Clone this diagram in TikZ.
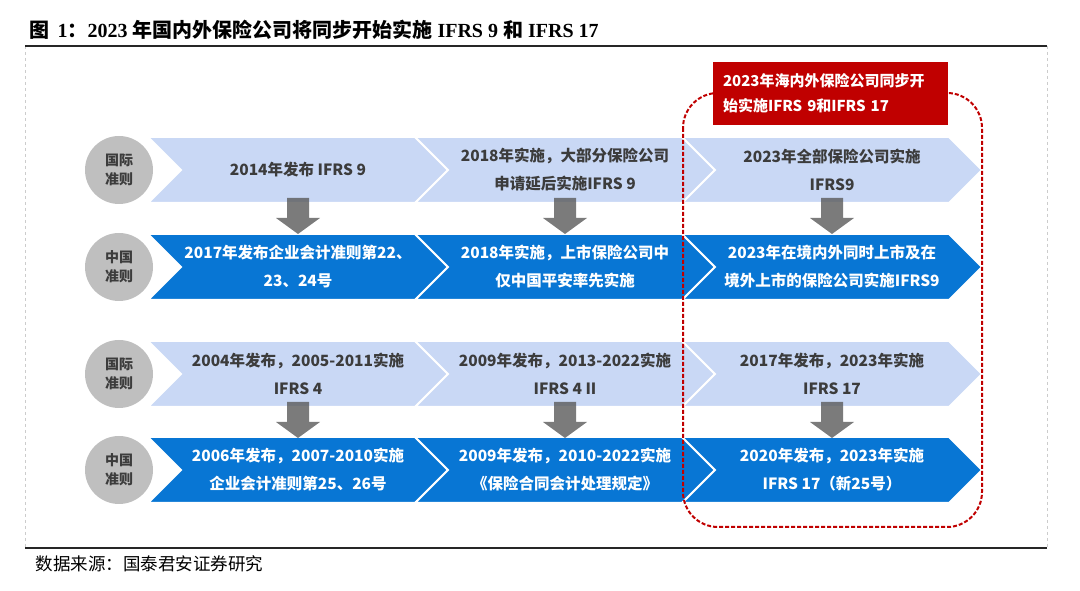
\documentclass[tikz,border=0pt]{standalone}
\usepackage{fontspec}
\setmainfont{Liberation Serif}
\newfontfamily\cjk{Noto Sans CJK SC}
\usetikzlibrary{shapes.symbols, positioning, calc}

\definecolor{lightblue}{RGB}{201,216,245}
\definecolor{darkblue}{RGB}{8,118,212}
\definecolor{darkred}{RGB}{192,0,0}
\definecolor{darktext}{RGB}{60,60,60}
\definecolor{circlegray}{RGB}{191,191,191}
\definecolor{arrowgray}{RGB}{90,90,90}

\begin{document}
\begin{tikzpicture}[
  x=1pt, y=1pt,
  chev/.style={
    signal,
    signal from=west,
    signal to=east,
    signal pointer angle=90,
    draw=white,
    line width=2pt,
    minimum width=300pt,
    minimum height=66pt,
    inner sep=0pt,
    align=center,
    font=\cjk\bfseries\fontsize{15.5}{28}\selectfont
  },
  intl/.style={
    chev,
    fill=lightblue,
    text=darktext
  },
  cn/.style={
    chev,
    fill=darkblue,
    text=white
  },
  tag/.style={
    circle,
    fill=circlegray,
    minimum size=68pt,
    inner sep=0pt,
    align=center,
    text=darktext,
    font=\cjk\bfseries\fontsize{14}{19}\selectfont
  },
  note/.style={
    rectangle,
    fill=darkred,
    text=white,
    minimum width=235pt,
    minimum height=63pt,
    text width=215pt,
    align=left,
    font=\cjk\bfseries\fontsize{15}{25}\selectfont
  },
  dnarrow/.pic={
    \fill[arrowgray, fill opacity=0.8]
      (-11,6) -- (11,6) -- (11,-14) -- (22,-14) -- (0,-30)
      -- (-22,-14) -- (-11,-14) -- cycle;
  },
  groupbox/.style={draw=darkred, dash pattern=on 4pt off 2pt, line width=2pt, rounded corners=35pt},
  frameline/.style={draw=black!85, line width=2pt},
  frameside/.style={draw=black!20, dashed, line width=1pt}
]

\useasboundingbox (0,0) rectangle (1080,591);

% ============================================================
% Title, frame and source
% ============================================================

\node[anchor=west, font=\bfseries\fontsize{20}{22}\selectfont] (title) at (26,561)
  {{\cjk 图}\hspace{8pt}1{\cjk ：}2023~{\cjk 年国内外保险公司将同步开始实施}~IFRS~9~{\cjk 和}~IFRS~17};

\draw[frameside] (25,545) -- (25,43);
\draw[frameside] (1047,545) -- (1047,43);
\draw[frameline] (25,545) -- (1047,545);
\draw[frameline] (25,43) -- (1047,43);

\node[anchor=west, font=\cjk\fontsize{17.5}{20}\selectfont] (source) at (32,27)
  {数据来源：国泰君安证券研究};

% ============================================================
% IFRS 9 block
% ============================================================

\node[tag] (t1) at (119,421) {国际\\准则};
\node[tag] (t2) at (119,324) {中国\\准则};

\node[intl] (a1) at (298,421) {2014年发布 IFRS 9};
\node[intl] (a2) at (565,421) {2018年实施，大部分保险公司\\申请延后实施IFRS 9};
\node[intl] (a3) at (832,421) {2023年全部保险公司实施\\IFRS9};

\node[cn] (b1) at (298,324) {2017年发布企业会计准则第22、\\23、24号};
\node[cn] (b2) at (565,324) {2018年实施，上市保险公司中\\仅中国平安率先实施};
\node[cn] (b3) at (832,324) {2023年在境内外同时上市及在\\境外上市的保险公司实施IFRS9};

\pic at (a1.south) {dnarrow};
\pic at (a2.south) {dnarrow};
\pic at (a3.south) {dnarrow};

% ============================================================
% IFRS 4 / IFRS 17 block
% ============================================================

\node[tag] (t3) at (119,217) {国际\\准则};
\node[tag] (t4) at (119,121) {中国\\准则};

\node[intl] (c1) at (298,217) {2004年发布，2005-2011实施\\IFRS 4};
\node[intl] (c2) at (565,217) {2009年发布，2013-2022实施\\IFRS 4 II};
\node[intl] (c3) at (832,217) {2017年发布，2023年实施\\IFRS 17};

\node[cn] (d1) at (298,121) {2006年发布，2007-2010实施\\企业会计准则第25、26号};
\node[cn] (d2) at (565,121) {2009年发布，2010-2022实施\\《保险合同会计处理规定》};
\node[cn] (d3) at (832,121) {2020年发布，2023年实施\\IFRS 17（新25号）};

\pic at (c1.south) {dnarrow};
\pic at (c2.south) {dnarrow};
\pic at (c3.south) {dnarrow};

% ============================================================
% 2023 highlight
% ============================================================

\draw[groupbox] (683,498) rectangle (982,64);

\node[note] (hl) at (830.5,497.5) {2023年海内外保险公司同步开\\始实施IFRS 9和IFRS 17};

\end{tikzpicture}
\end{document}
